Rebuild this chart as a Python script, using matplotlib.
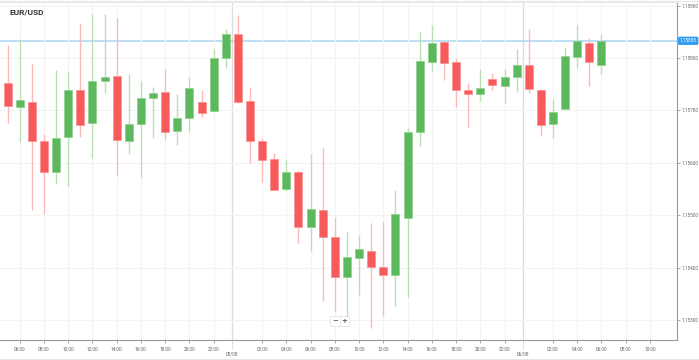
import numpy as np
import pandas as pd
import matplotlib.pyplot as plt
import matplotlib.dates as mdates
from matplotlib.lines import Line2D

plt.rcParams['font.family'] = ['Roboto', 'DejaVu Sans']

# 1小时K线数据
times = pd.date_range('2025-08-04 05:00', periods=50, freq='h')
opens = [1.15752, 1.15707, 1.15717, 1.15642, 1.15583, 1.15649, 1.15740, 1.15676, 1.15756, 1.15766,
         1.15642, 1.15674, 1.15723, 1.15736, 1.15661, 1.15686, 1.15716, 1.15699, 1.15801, 1.15846,
         1.15718, 1.15641, 1.15607, 1.15551, 1.15583, 1.15477, 1.15511, 1.15458, 1.15382, 1.15419,
         1.15432, 1.15401, 1.15386, 1.15494, 1.15659, 1.15793, 1.15830, 1.15793, 1.15740, 1.15731,
         1.15761, 1.15747, 1.15763, 1.15787, 1.15740, 1.15674, 1.15702, 1.15802, 1.15829, 1.15786]
highs = [1.15824, 1.15836, 1.15789, 1.15655, 1.15777, 1.15775, 1.15866, 1.15885, 1.15885, 1.15876,
         1.15769, 1.15756, 1.15744, 1.15779, 1.15731, 1.15763, 1.15739, 1.15817, 1.15856, 1.15882,
         1.15744, 1.15647, 1.15618, 1.15607, 1.15585, 1.15616, 1.15628, 1.15496, 1.15468, 1.15462,
         1.15486, 1.15488, 1.15548, 1.15667, 1.15850, 1.15863, 1.15831, 1.15800, 1.15752, 1.15779,
         1.15771, 1.15779, 1.15817, 1.15855, 1.15741, 1.15722, 1.15822, 1.15863, 1.15838, 1.15845]
lows = [1.15677, 1.15639, 1.15511, 1.15502, 1.15560, 1.15556, 1.15650, 1.15609, 1.15733, 1.15575,
        1.15616, 1.15574, 1.15647, 1.15645, 1.15635, 1.15658, 1.15687, 1.15697, 1.15781, 1.15715,
        1.15599, 1.15563, 1.15548, 1.15546, 1.15448, 1.15432, 1.15337, 1.15318, 1.15306, 1.15348,
        1.15284, 1.15308, 1.15327, 1.15345, 1.15632, 1.15776, 1.15758, 1.15707, 1.15668, 1.15719,
        1.15740, 1.15714, 1.15735, 1.15733, 1.15652, 1.15647, 1.15701, 1.15782, 1.15747, 1.15770]
closes = [1.15709, 1.15720, 1.15641, 1.15582, 1.15647, 1.15740, 1.15672, 1.15756, 1.15763, 1.15644,
          1.15675, 1.15724, 1.15733, 1.15658, 1.15686, 1.15743, 1.15696, 1.15800, 1.15845, 1.15717,
          1.15642, 1.15606, 1.15549, 1.15583, 1.15477, 1.15512, 1.15458, 1.15383, 1.15420, 1.15435,
          1.15401, 1.15386, 1.15503, 1.15658, 1.15795, 1.15829, 1.15791, 1.15739, 1.15731, 1.15742,
          1.15749, 1.15763, 1.15787, 1.15741, 1.15672, 1.15697, 1.15803, 1.15832, 1.15792, 1.15833]
last_price = 1.15833
price_ticks = [1.153, 1.154, 1.155, 1.156, 1.157, 1.158, 1.159]
hour_ticks = pd.date_range('2025-08-04 06:00', '2025-08-06 10:00', freq='2h')
symbol = 'EUR/USD'

W, H = 699, 360
fig = plt.figure(figsize=(W / 100, H / 100), dpi=100)
ax = fig.add_axes([0, 20 / H, 677 / W, 338 / H])

x = mdates.date2num(times)
o = np.array(opens)
c = np.array(closes)
up = c >= o

# 影线
wick_colors = np.where(up, '#b8e0b3', '#fbb9b9')
ax.vlines(x, lows, highs, colors=wick_colors, lw=1, zorder=2)

# 实体
body_colors = np.where(up, '#5cb85c', '#f65a5a')
edge_colors = np.where(up, '#8fd08b', '#fb8f8f')
ax.bar(x, np.abs(c - o), bottom=np.minimum(o, c), width=0.66 / 24,
       color=body_colors, edgecolor=edge_colors, linewidth=0.5, zorder=3)

day0 = mdates.date2num(times[0].normalize())
ax.set_xlim(day0 + 4.375 / 24, day0 + 60.23 / 24)
ax.set_ylim(1.15262, 1.15907)

# 刻度与网格 (整点午夜用日期代替)
ticks = hour_ticks[hour_ticks.hour != 0]
ax.set_xticks(mdates.date2num(ticks))
ax.set_xticklabels(ticks.strftime('%H:%M'))
ax.set_yticks(price_ticks)
ax.yaxis.set_major_formatter(plt.FuncFormatter(lambda v, p: f'{v:.5f}'))
ax.yaxis.tick_right()
ax.grid(color='#f3f3f3', lw=0.8, zorder=0)
ax.tick_params(axis='both', labelsize=3.4, colors='#999999', labelcolor='#666666',
               length=2, width=0.6)
ax.tick_params(axis='x', pad=3)
ax.tick_params(axis='y', pad=1.5)
ax.spines['left'].set_visible(False)
ax.spines['top'].set_color('#ececec')
ax.spines['right'].set_color('#9a9a9a')
ax.spines['bottom'].set_color('#9a9a9a')
ax.spines['right'].set_linewidth(0.8)
ax.spines['bottom'].set_linewidth(0.8)

# 日期分隔线
xt = ax.get_xaxis_transform()
for d in [1, 2]:
    sep = day0 + d - 0.5 / 24
    ax.axvline(sep, color='#dcdcdc', lw=0.9, zorder=1)
    ax.plot([sep, sep], [0, -0.028], transform=xt, color='#999999', lw=0.6, ls=':', clip_on=False)
    label = (times[0].normalize() + pd.Timedelta(days=d)).strftime('%d/%m')
    ax.text(sep, -14 / 338, label, transform=xt, ha='center', va='center',
            fontsize=3.4, color='#666666')

# 当前价格线
ax.axhline(last_price, color='#a8d4f5', lw=1.1, zorder=1)
ax.text(1.004, last_price, f'{last_price:.5f}', transform=ax.get_yaxis_transform(),
        ha='left', va='center', fontsize=3.4, color='white', clip_on=False,
        bbox=dict(boxstyle='round,pad=0.35,rounding_size=0.3', fc='#2f9df2', ec='none'))

# 标题
fig.text(10 / W, 1 - 12 / H, symbol, fontsize=6, fontweight='bold', color='#333333', va='center')

# 缩放按钮
for bx, s in [(335, '\u2212'), (344.5, '+')]:
    fig.text(bx / W, 1 - 321 / H, s, fontsize=5, fontweight='bold', color='#555555',
             ha='center', va='center', family='DejaVu Sans',
             bbox=dict(boxstyle='square,pad=0.25', fc='white', ec='#e2e2e2', lw=0.6))

# 外框
fig.add_artist(Line2D([0, 1], [1 - 1 / H] * 2, color='#e6e6e6', lw=0.8))
fig.add_artist(Line2D([0, 1], [1.2 / H] * 2, color='#e6e6e6', lw=0.8))

fig.savefig('out.png', dpi=100)
plt.close()
